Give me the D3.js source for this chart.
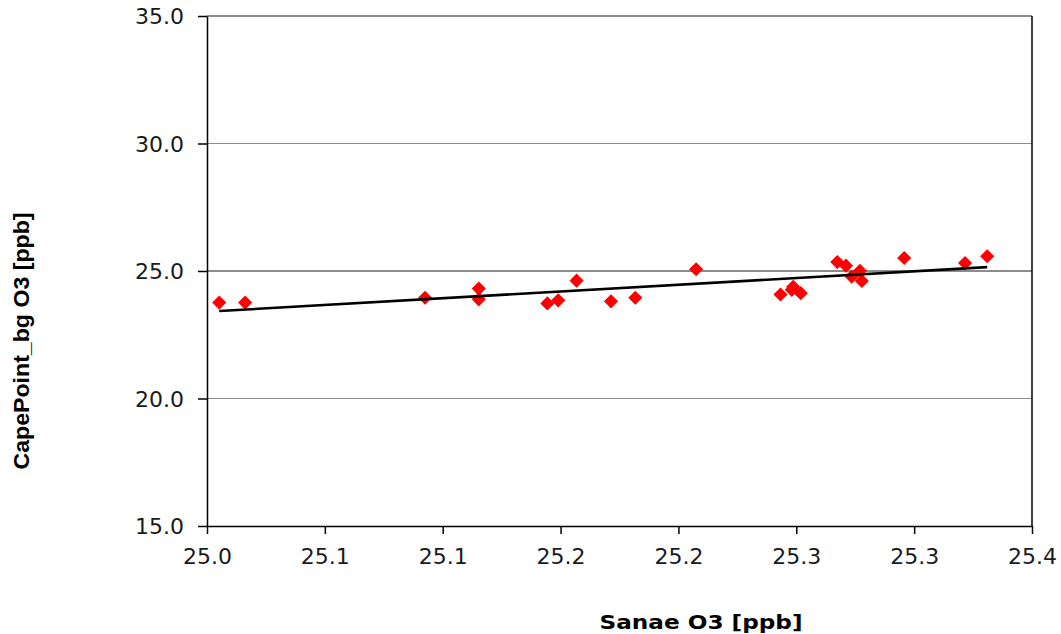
<!DOCTYPE html>
<html>
<head>
<meta charset="utf-8">
<script src="https://cdn.jsdelivr.net/npm/d3@7"></script>
<style>
  html, body { margin: 0; padding: 0; background: #fff; }
  svg { display: block; }
</style>
</head>
<body>
<svg id="chart" width="1061" height="634"></svg>
<script>
// Sanae O3 vs Cape Point background O3 (ppb)
const sanaeO3 = [
  25.0052, 25.0162, 25.0925, 25.1153, 25.1153, 25.1444, 25.1490, 25.1568,
  25.1714, 25.1817, 25.2075, 25.2433, 25.2487, 25.2481, 25.2519, 25.2674,
  25.2711, 25.2735, 25.2770, 25.2778, 25.2958, 25.3216, 25.3310
];
const capePointO3 = [
  23.76, 23.76, 23.95, 24.31, 23.89, 23.73, 23.85, 24.62,
  23.81, 23.95, 25.07, 24.08, 24.38, 24.26, 24.13, 25.35,
  25.21, 24.78, 25.01, 24.61, 25.51, 25.31, 25.58
];
const xTicks = [25.00, 25.05, 25.10, 25.15, 25.20, 25.25, 25.30, 25.35];
const xTickLabels = ["25.0", "25.1", "25.1", "25.2", "25.2", "25.3", "25.3", "25.4"];
const yTicks = [15, 20, 25, 30, 35];
const yTickLabels = ["15.0", "20.0", "25.0", "30.0", "35.0"];
const xTitle = "Sanae O3 [ppb]";
const yTitle = "CapePoint_bg O3 [ppb]";

const svg = d3.select("#chart");
const plot = { left: 207, right: 1032, top: 16, bottom: 526 };

const x = d3.scaleLinear().domain([25.0, 25.35]).range([plot.left, plot.right]);
const y = d3.scaleLinear().domain([15, 35]).range([plot.bottom, plot.top]);

// horizontal gridlines
svg.append("g")
  .selectAll("line")
  .data(yTicks.filter(v => v !== 15))
  .join("line")
  .attr("x1", plot.left).attr("x2", plot.right)
  .attr("y1", d => y(d)).attr("y2", d => y(d))
  .attr("stroke", "#8c8c8c").attr("stroke-width", 1.2)
  .attr("shape-rendering", "crispEdges");

// right border of the plot area
svg.append("line")
  .attr("x1", plot.right).attr("x2", plot.right)
  .attr("y1", plot.top).attr("y2", plot.bottom)
  .attr("stroke", "#000").attr("stroke-width", 1.5);

// axes
const xAxis = svg.append("g")
  .attr("transform", `translate(0,${plot.bottom})`)
  .call(d3.axisBottom(x).tickValues(xTicks)
    .tickFormat((d, i) => xTickLabels[i])
    .tickSizeInner(8).tickSizeOuter(0).tickPadding(14));
const yAxis = svg.append("g")
  .attr("transform", `translate(${plot.left},0)`)
  .call(d3.axisLeft(y).tickValues(yTicks)
    .tickFormat((d, i) => yTickLabels[i])
    .tickSizeInner(9).tickSizeOuter(0).tickPadding(14));

[xAxis, yAxis].forEach(g => {
  g.select(".domain").attr("stroke", "#000").attr("stroke-width", 1.5);
  g.selectAll(".tick line").attr("stroke", "#000").attr("stroke-width", 1.5);
  g.selectAll(".tick text")
    .attr("fill", "#1a1a1a")
    .style("font-family", "'DejaVu Sans', Verdana, sans-serif")
    .style("font-size", "22px");
});
yAxis.selectAll(".tick text").attr("dy", "0.36em");

// least-squares trendline over the observed range
const n = sanaeO3.length;
const mx = d3.mean(sanaeO3), my = d3.mean(capePointO3);
let sxy = 0, sxx = 0;
for (let i = 0; i < n; i++) {
  sxy += (sanaeO3[i] - mx) * (capePointO3[i] - my);
  sxx += (sanaeO3[i] - mx) ** 2;
}
const slope = sxy / sxx, intercept = my - slope * mx;
const [x0, x1] = d3.extent(sanaeO3);

// data markers (diamonds)
const diamond = d3.symbol().type(d3.symbolSquare).size(100);
svg.append("g")
  .selectAll("path")
  .data(d3.range(n))
  .join("path")
  .attr("d", diamond)
  .attr("transform", i => `translate(${x(sanaeO3[i])},${y(capePointO3[i])}) rotate(45)`)
  .attr("fill", "#ff0000");

svg.append("line")
  .attr("x1", x(x0)).attr("y1", y(slope * x0 + intercept))
  .attr("x2", x(x1)).attr("y2", y(slope * x1 + intercept))
  .attr("stroke", "#000").attr("stroke-width", 2.6);

// axis titles
svg.append("text")
  .attr("x", 701).attr("y", 629)
  .attr("text-anchor", "middle")
  .attr("textLength", 203).attr("lengthAdjust", "spacingAndGlyphs")
  .style("font-family", "'DejaVu Sans', Verdana, sans-serif")
  .style("font-weight", "bold").style("font-size", "20px")
  .attr("fill", "#000")
  .text(xTitle);

svg.append("text")
  .attr("transform", "translate(29,341) rotate(-90)")
  .attr("text-anchor", "middle")
  .attr("textLength", 257).attr("lengthAdjust", "spacingAndGlyphs")
  .style("font-family", "'Liberation Sans', Arial, sans-serif")
  .style("font-weight", "bold").style("font-size", "22px")
  .attr("fill", "#000")
  .text(yTitle);
</script>
</body>
</html>
